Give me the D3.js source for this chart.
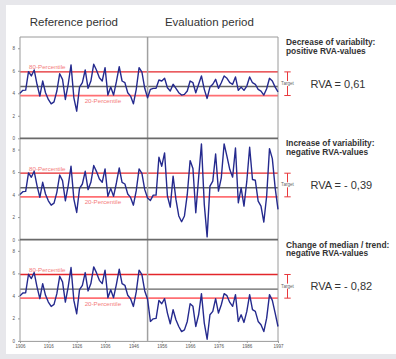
<!DOCTYPE html>
<html>
<head>
<meta charset="utf-8">
<script src="https://cdn.jsdelivr.net/npm/d3@7"></script>
<style>
  body { margin: 0; background: #e7e7eb; }
  svg { display: block; font-family: "Liberation Sans", Arial, sans-serif; }
</style>
</head>
<body>
<svg id="rva-chart" width="396" height="359"></svg>
<script>
// reference period 1906-1950 (same in all three panels)
const refYears = d3.range(1906, 1951);
const refValues = [4.0, 4.26, 4.28, 5.92, 5.54, 6.07, 4.8, 3.75, 5.09, 4.05,
  3.45, 3.06, 3.24, 4.2, 5.74, 5.24, 3.45, 4.8, 6.52, 3.6,
  2.41, 4.55, 4.94, 6.07, 4.44, 5.09, 6.58, 6.04, 5.38, 5.09,
  6.28, 3.84, 4.55, 3.84, 5.03, 6.37, 5.09, 4.94, 4.05, 3.75,
  3.06, 4.35, 6.28, 5.89, 4.44];

// evaluation period 1951-1997
const evalYears = d3.range(1951, 1998);
const evalDecrease = [3.6, 4.35, 4.44, 4.44, 5.18, 5.09, 5.33, 4.49, 4.2, 4.8,
  4.44, 4.05, 3.84, 3.9, 4.2, 5.09, 4.94, 4.05, 4.8, 5.54,
  4.35, 3.54, 4.55, 4.8, 5.24, 4.44, 4.94, 5.54, 5.33, 4.94,
  4.8, 5.45, 4.26, 4.55, 4.26, 4.64, 5.45, 4.94, 4.8, 4.35,
  4.2, 3.84, 4.4, 5.33, 5.09, 4.55, 4.13];
const evalIncrease = [3.7, 3.48, 3.95, 3.95, 7.32, 6.52, 7.7, 3.87, 2.89, 5.64,
  3.57, 2.1, 1.59, 2.1, 4.01, 7.02, 6.31, 2.39, 5.49, 8.5,
  3.13, 0.24, 4.75, 5.19, 7.6, 4.31, 5.49, 8.5, 7.4, 6.22,
  5.55, 8.14, 3.27, 4.6, 2.98, 5.19, 8.2, 5.34, 5.27, 3.42,
  2.98, 1.56, 3.87, 8.08, 7.19, 4.6, 2.68];
const evalTrend = [3.7, 1.73, 1.96, 2.0, 3.6, 3.3, 3.75, 2.47, 1.52, 2.77,
  1.88, 1.28, 0.83, 0.98, 1.73, 3.3, 3.07, 1.28, 2.32, 4.2,
  1.58, 0.15, 2.32, 2.62, 3.75, 2.47, 3.21, 4.2, 4.02, 3.42,
  3.07, 4.11, 1.73, 2.32, 1.64, 2.62, 4.11, 2.77, 2.62, 1.73,
  1.43, 0.83, 2.02, 4.11, 3.6, 2.47, 1.28];

// percentiles of the reference period
const p80 = 5.9, median = 4.6, p20 = 3.8;

const periodTitles = ['Reference period', 'Evaluation period'];
const panelHeads = [
  ['Decrease of variabilty:', 'positive RVA-values'],
  ['Increase of variability:', 'negative RVA-values'],
  ['Change of median / trend:', 'negative RVA-values']
];
const rvaLabels = ['RVA = 0,61', 'RVA = - 0,39', 'RVA = - 0,82'];
const evalSeries = [evalDecrease, evalIncrease, evalTrend];
const yTicks = [0, 2, 4, 6, 8];
const xTicks = [1906, 1916, 1926, 1936, 1946, 1956, 1966, 1976, 1986, 1997];

const svg = d3.select('#rva-chart');
const margin = {left: 20, right: 118, top: 37},
  width = 396 - margin.left - margin.right,
  panelH = 101.3;

svg.append('rect').attr('x', 6).attr('y', 5).attr('width', 390).attr('height', 349).attr('fill', '#fff');

const x = d3.scaleLinear().domain([1906, 1997]).range([margin.left, margin.left + width]);

// period titles
svg.selectAll('.period')
  .data(periodTitles)
  .enter().append('text')
  .attr('x', (d, i) => x(i === 0 ? 1925 : 1972.8))
  .attr('y', 26)
  .attr('text-anchor', 'middle')
  .attr('font-size', '11.5px')
  .attr('fill', '#333')
  .text(d => d);

const line = d3.line()
  .x(d => x(d.year));

evalSeries.forEach(function(series, i) {
  const top = margin.top + i * panelH;
  const y = d3.scaleLinear().domain([0, 9]).range([top + panelH, top]);
  const g = svg.append('g');

  const data = refYears.map((yr, k) => ({year: yr, v: refValues[k]}))
    .concat(evalYears.map((yr, k) => ({year: yr, v: series[k]})));

  // y axis
  const ya = g.append('g')
    .attr('transform', 'translate(' + margin.left + ',0)')
    .call(d3.axisLeft(y).tickValues(yTicks).tickSize(2).tickPadding(3));
  ya.select('.domain').remove();
  ya.selectAll('line').attr('stroke', '#999');
  ya.selectAll('text').attr('font-size', '4.5px').attr('fill', '#555').attr('font-family', null);

  // reference lines
  g.append('line')
    .attr('x1', x(1906)).attr('x2', x(1997))
    .attr('y1', y(median)).attr('y2', y(median))
    .attr('stroke', '#646464').attr('stroke-width', 1.4);
  g.append('line')
    .attr('x1', x(1906)).attr('x2', x(1997))
    .attr('y1', y(p80)).attr('y2', y(p80))
    .attr('stroke', '#e3262b').attr('stroke-width', 1.3);
  g.append('line')
    .attr('x1', x(1906)).attr('x2', x(1997))
    .attr('y1', y(p20)).attr('y2', y(p20))
    .attr('stroke', '#ff6f73').attr('stroke-width', 1.8);

  g.append('text')
    .attr('x', x(1909.2)).attr('y', y(p80) - 2.5)
    .attr('font-size', '6.2px').attr('fill', '#f47c7c')
    .text('80-Percentile');
  g.append('text')
    .attr('x', x(1928.8)).attr('y', y(p20) + 7.5)
    .attr('font-size', '6.2px').attr('fill', '#f47c7c')
    .text('20-Percentile');

  // frame
  g.append('line')
    .attr('x1', margin.left).attr('x2', margin.left)
    .attr('y1', top).attr('y2', top + panelH)
    .attr('stroke', '#9a9a9a').attr('stroke-width', 1);
  g.append('line')
    .attr('x1', x(1997)).attr('x2', x(1997))
    .attr('y1', top).attr('y2', top + panelH)
    .attr('stroke', '#9a9a9a').attr('stroke-width', 1);
  g.append('line')
    .attr('x1', x(1951)).attr('x2', x(1951))
    .attr('y1', top).attr('y2', top + panelH)
    .attr('stroke', '#a0a0a0').attr('stroke-width', 1.5);
  g.append('line')
    .attr('x1', margin.left).attr('x2', x(1997))
    .attr('y1', top).attr('y2', top)
    .attr('stroke', i === 0 ? '#9a9a9a' : '#6a6a6a').attr('stroke-width', i === 0 ? 1 : 1.8);

  // series
  g.append('path')
    .datum(data)
    .attr('fill', 'none')
    .attr('stroke', '#252a8e')
    .attr('stroke-width', 1.4)
    .attr('stroke-linejoin', 'round')
    .attr('d', line.y(d => y(d.v)));

  // target bracket
  const bx = 287.5;
  g.append('path')
    .attr('d', 'M' + (bx - 3.2) + ',' + y(p80) + 'H' + (bx + 3.2) +
      'M' + bx + ',' + y(p80) + 'V' + y(p20) +
      'M' + (bx - 3.2) + ',' + y(p20) + 'H' + (bx + 3.2))
    .attr('fill', 'none').attr('stroke', '#e8383c').attr('stroke-width', 1);
  g.append('rect')
    .attr('x', bx - 7.5).attr('y', y(median) - 5.5)
    .attr('width', 15).attr('height', 5).attr('fill', '#fff');
  g.append('text')
    .attr('x', bx).attr('y', y(median) - 1.5)
    .attr('text-anchor', 'middle')
    .attr('font-size', '4.6px').attr('fill', '#666')
    .text('Target');

  // headings and RVA value
  g.selectAll('.head')
    .data(panelHeads[i])
    .enter().append('text')
    .attr('x', 286)
    .attr('y', (d, k) => top + 8 + k * 8.5)
    .attr('font-size', '8.4px')
    .attr('font-weight', 'bold')
    .attr('fill', '#333')
    .text(d => d);
  g.append('text')
    .attr('x', 310.5).attr('y', y(median) + 1)
    .attr('font-size', '11px').attr('fill', '#333')
    .text(rvaLabels[i]);

  if (i === 2) {
    const xa = g.append('g')
      .attr('transform', 'translate(0,' + (top + panelH) + ')')
      .call(d3.axisBottom(x).tickValues(xTicks).tickFormat(d3.format('d')).tickSize(2).tickPadding(2));
    xa.select('.domain').attr('stroke', '#9a9a9a');
    xa.selectAll('line').attr('stroke', '#999');
    xa.selectAll('text').attr('font-size', '4.5px').attr('fill', '#555').attr('font-family', null);
  }
});
</script>
</body>
</html>
